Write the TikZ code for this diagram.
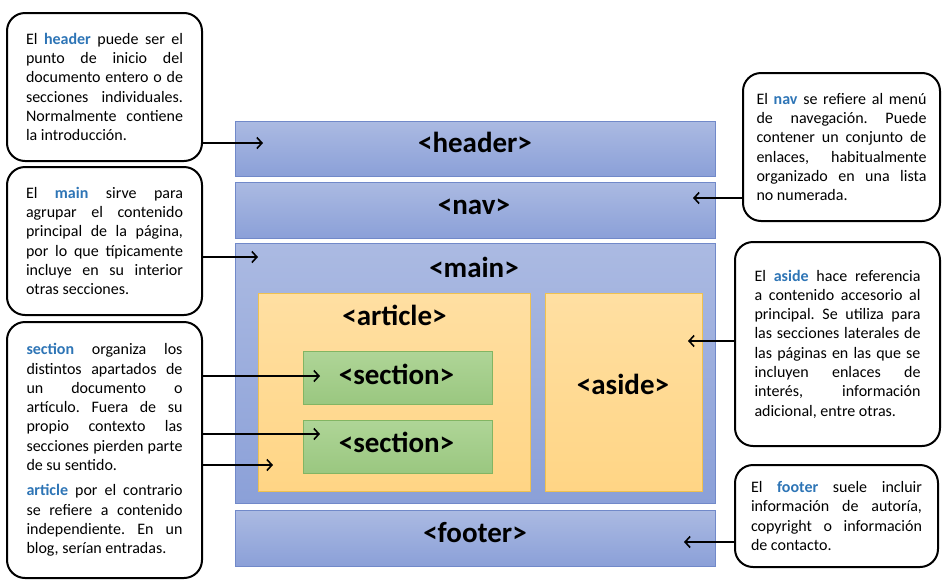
\documentclass[tikz,border=0pt]{standalone}
\usepackage{fontspec}
\setmainfont{Carlito}
\usetikzlibrary{arrows.meta}
\frenchspacing
\definecolor{kwc}{HTML}{2E75B6}
\definecolor{bluetop}{HTML}{ABBAE2}
\definecolor{bluebot}{HTML}{8BA0D8}
\definecolor{blueline}{HTML}{7189C9}
\definecolor{orgtop}{HTML}{FFDFA2}
\definecolor{orgbot}{HTML}{FFD585}
\definecolor{orgline}{HTML}{EFC150}
\definecolor{grntop}{HTML}{AFD597}
\definecolor{grnbot}{HTML}{9AC780}
\definecolor{grnline}{HTML}{82B563}
\newcommand\kwd[1]{\textcolor{kwc}{\textbf{#1}}}
\newcommand\jl[2]{\makebox[#1][s]{#2}}
\begin{document}
\begin{tikzpicture}[x=1pt,y=-1pt,
  bluebox/.style={draw=blueline, line width=0.9pt, top color=bluetop, bottom color=bluebot, inner sep=0pt},
  orgbox/.style={draw=orgline, line width=0.9pt, top color=orgtop, bottom color=orgbot, inner sep=0pt},
  grnbox/.style={draw=grnline, line width=0.9pt, top color=grntop, bottom color=grnbot, inner sep=0pt},
  tag/.style={font=\bfseries\fontsize{29}{34}\selectfont, anchor=base, inner sep=0pt},
  note/.style={draw=black, line width=2pt, fill=white, rounded corners=18pt, inner sep=0pt, align=left,
    font=\fontsize{16}{19.3}\selectfont},
  arr/.style={line width=1.6pt, -{Straight Barb[length=5pt,width=11pt]}}
]
\useasboundingbox (0,0) rectangle (950,587);
% main layout boxes
\node[bluebox, minimum width=480pt, minimum height=55pt] (header) at (475,148.5) {};
\node[bluebox, minimum width=480pt, minimum height=56pt] (nav) at (475,210) {};
\node[bluebox, minimum width=480pt, minimum height=260pt] (main) at (475,373) {};
\node[bluebox, minimum width=480pt, minimum height=56pt] (footer) at (475,538) {};
\node[orgbox, minimum width=272pt, minimum height=198pt] (article) at (394,392) {};
\node[orgbox, minimum width=157pt, minimum height=198pt] (aside) at (623.5,392) {};
\node[grnbox, minimum width=189pt, minimum height=53pt] (sec1) at (397.5,377.5) {};
\node[grnbox, minimum width=189pt, minimum height=53pt] (sec2) at (397.5,446.5) {};
% tags
\node[tag] (headerT) at (475,152) {<header>};
\node[tag] (navT) at (474,214) {<nav>};
\node[tag] (mainT) at (474,277) {<main>};
\node[tag] (articleT) at (394.5,325) {<article>};
\node[tag] (sec1T) at (396.5,384) {<section>};
\node[tag] (sec2T) at (396.5,452) {<section>};
\node[tag] (asideT) at (623,394) {<aside>};
\node[tag] (footerT) at (475,542) {<footer>};
% callouts
\node[note, minimum width=195pt, minimum height=148pt] (hdrnote) at (104.5,87) {%
\jl{157pt}{El \kwd{header} puede ser el}\\
\jl{157pt}{punto de inicio del}\\
\jl{157pt}{documento entero o de}\\
\jl{157pt}{secciones individuales.}\\
\jl{157pt}{Normalmente contiene}\\
la introducción.};
\node[note, minimum width=195pt, minimum height=148pt] (mainnote) at (104.5,241) {%
\jl{157pt}{El \kwd{main} sirve para}\\
\jl{157pt}{agrupar el contenido}\\
\jl{157pt}{principal de la página,}\\
\jl{157pt}{por lo que típicamente}\\
\jl{157pt}{incluye en su interior}\\
otras secciones.};
\node[note, minimum width=195pt, minimum height=256pt] (secnote) at (104.5,450) {%
\jl{156pt}{\kwd{section} organiza los}\\
\jl{156pt}{distintos apartados de}\\
\jl{156pt}{un documento o}\\
\jl{156pt}{artículo. Fuera de su}\\
\jl{156pt}{propio contexto las}\\
\jl{156pt}{secciones pierden parte}\\
de su sentido.\\[6pt]
\jl{156pt}{\kwd{article} por el contrario}\\
\jl{156pt}{se refiere a contenido}\\
\jl{156pt}{independiente. En un}\\
blog, serían entradas.};
\node[note, minimum width=197pt, minimum height=148pt] (navnote) at (841.5,147) {%
\jl{170pt}{El \kwd{nav} se refiere al menú}\\
\jl{170pt}{de navegación. Puede}\\
\jl{170pt}{contener un conjunto de}\\
\jl{170pt}{enlaces, habitualmente}\\
\jl{170pt}{organizado en una lista}\\
no numerada.};
\node[note, minimum width=205pt, minimum height=204pt] (asidenote) at (837.5,344) {%
\jl{166pt}{El \kwd{aside} hace referencia}\\
\jl{166pt}{a contenido accesorio al}\\
\jl{166pt}{principal. Se utiliza para}\\
\jl{166pt}{las secciones laterales de}\\
\jl{166pt}{las páginas en las que se}\\
\jl{166pt}{incluyen enlaces de}\\
\jl{166pt}{interés, información}\\
adicional, entre otras.};
\node[note, minimum width=203pt, minimum height=102pt] (ftrnote) at (836.5,516) {%
\jl{171pt}{El \kwd{footer} suele incluir}\\
\jl{171pt}{información de autoría,}\\
\jl{171pt}{copyright o información}\\
de contacto.};
% arrow targets
\coordinate (hA) at (263,143);
\coordinate (mA) at (258,257);
\coordinate (s1A) at (320,376);
\coordinate (s2A) at (320,434);
\coordinate (aA) at (273,465);
\coordinate (nA) at (693,198);
\coordinate (asA) at (688,341);
\coordinate (fA) at (684,542);
% connectors
\draw[arr] (hA -| hdrnote.east) -- (hA);
\draw[arr] (mA -| mainnote.east) -- (mA);
\draw[arr] (s1A -| secnote.east) -- (s1A);
\draw[arr] (s2A -| secnote.east) -- (s2A);
\draw[arr] (aA -| secnote.east) -- (aA);
\draw[arr] (nA -| navnote.west) -- (nA);
\draw[arr] (asA -| asidenote.west) -- (asA);
\draw[arr] (fA -| ftrnote.west) -- (fA);
\end{tikzpicture}
\end{document}
